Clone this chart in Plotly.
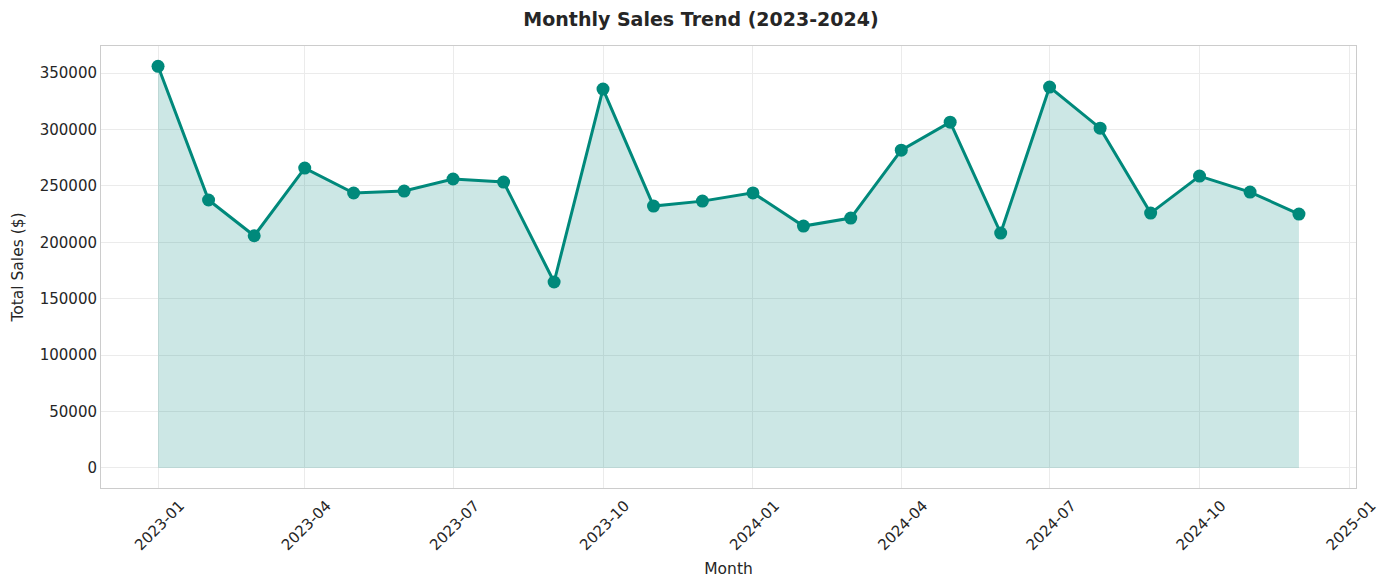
# Monthly sales trend 2023-2024, area + line chart
import plotly.graph_objects as go

months = ["2023-01-01", "2023-02-01", "2023-03-01", "2023-04-01", "2023-05-01", "2023-06-01",
          "2023-07-01", "2023-08-01", "2023-09-01", "2023-10-01", "2023-11-01", "2023-12-01",
          "2024-01-01", "2024-02-01", "2024-03-01", "2024-04-01", "2024-05-01", "2024-06-01",
          "2024-07-01", "2024-08-01", "2024-09-01", "2024-10-01", "2024-11-01", "2024-12-01"]
total_sales = [356000, 237500, 205800, 265800, 243700, 245400,
               256100, 253400, 164800, 335800, 232100, 236500,
               243800, 214400, 221500, 281700, 306500, 208200,
               337600, 301200, 225900, 258700, 244500, 225000]

teal = "#00897b"

fig = go.Figure()
fig.add_trace(go.Scatter(
    x = months,
    y = total_sales,
    mode = "lines+markers",
    fill = "tozeroy",
    fillcolor = "rgba(0,137,123,0.2)",
    line = dict(color = teal, width = 3),
    marker = dict(color = teal, size = 13),
    showlegend = False,
))

# page body adds ~8px offset, so margins are shifted to compensate
fig.update_layout(
    width = 1386, height = 587,
    paper_bgcolor = "white", plot_bgcolor = "white",
    font = dict(family = "DejaVu Sans", size = 15, color = "#262626"),
    title = dict(text = "<b>Monthly Sales Trend (2023-2024)</b>", x = 0.5, xanchor = "center",
                 y = 1 - 11 / 587, yanchor = "middle", font = dict(size = 19, color = "#262626")),
    margin = dict(l = 93, r = 38, t = 38, b = 107),
)
fig.update_xaxes(
    type = "date", range = ["2022-11-27", "2025-01-05"],
    tick0 = "2023-01-01", dtick = "M3", tickformat = "%Y-%m", tickangle = -45,
    ticklabelshift = 22, ticklabelstandoff = 2, automargin = False,
    showgrid = True, gridcolor = "#ebebeb", zeroline = False,
    showline = True, linecolor = "#cccccc", mirror = True,
    title = dict(text = "Month", standoff = 10, font = dict(size = 15.5)),
)
fig.update_yaxes(
    range = [-17800, 374000], dtick = 50000, tickformat = "d", automargin = False,
    showgrid = True, gridcolor = "#ebebeb", zeroline = False,
    showline = True, linecolor = "#cccccc", mirror = True,
    title = dict(text = "Total Sales ($)", standoff = 12, font = dict(size = 15.5)),
)

fig.write_html("out.html")
